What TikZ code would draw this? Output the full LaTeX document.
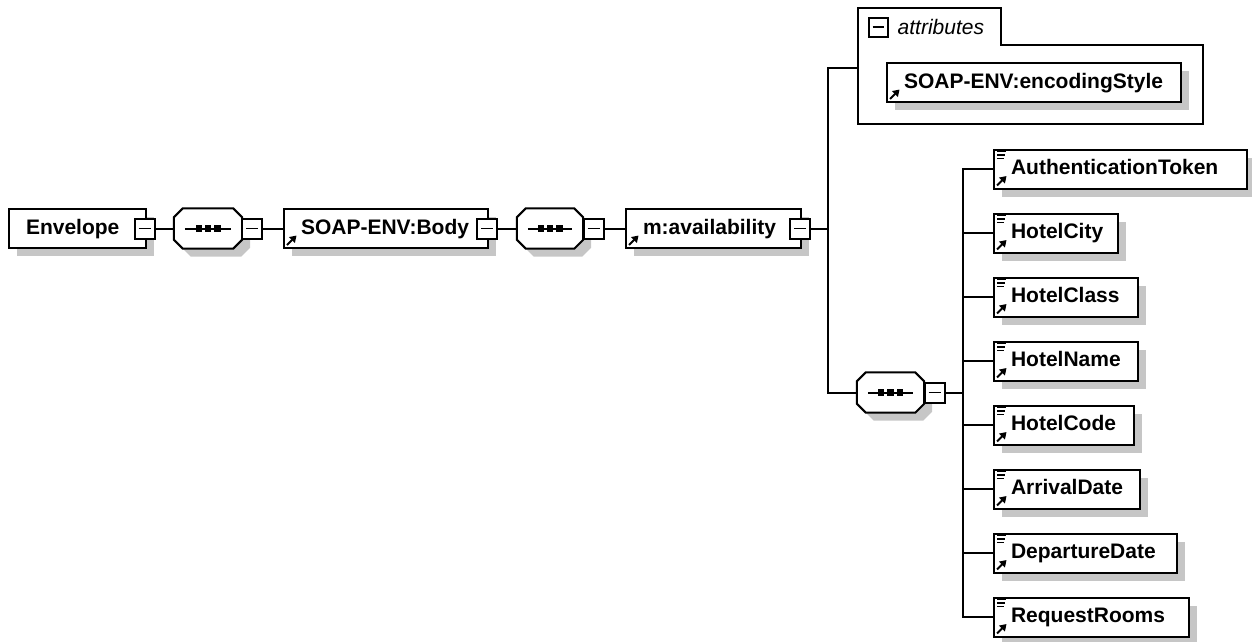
\documentclass[tikz,border=0pt]{standalone}
\usepackage{fontspec}
\setmainfont{Liberation Sans}
\usetikzlibrary{arrows.meta, shadows, positioning}
\exhyphenpenalty=10000

% octagon drawn round an (invisible) sequence node
\newcommand\seqoutline[1]{%
  \draw[seqbody] ([xshift=9pt]#1.north west) -- ([xshift=-9pt]#1.north east)
    -- ([yshift=-9pt]#1.north east) -- ([yshift=9pt]#1.south east)
    -- ([xshift=-9pt]#1.south east) -- ([xshift=9pt]#1.south west)
    -- ([yshift=9pt]#1.south west) -- ([yshift=-9pt]#1.north west) -- cycle;}

\tikzset{
  boxshadow/.style={drop shadow={shadow xshift=8pt, shadow yshift=-8pt, fill=gray!45, opacity=1}},
  element/.style={draw, fill=white, line width=2pt, anchor=west, minimum height=39pt,
    inner xsep=17pt, inner ysep=0pt, align=left, text height=15pt, text depth=4pt,
    font=\bfseries\fontsize{21}{24}\selectfont, boxshadow},
  refmark/.style={line width=2pt, -{Triangle[length=6.5pt, width=8pt]}},
  refelement/.style={element, path picture={
      \draw[refmark] ([shift={(3pt,3pt)}]path picture bounding box.south west) -- ++(9.5pt,9.5pt);}},
  leafelement/.style={element, path picture={
      \draw[refmark] ([shift={(3pt,3pt)}]path picture bounding box.south west) -- ++(9.5pt,9.5pt);
      \draw[line width=1.3pt] ([shift={(3pt,-2.3pt)}]path picture bounding box.north west) -- ++(9pt,0pt);
      \draw[line width=1.3pt] ([shift={(3pt,-5.6pt)}]path picture bounding box.north west) -- ++(8pt,0pt);
      \draw[line width=1.3pt] ([shift={(3pt,-8.9pt)}]path picture bounding box.north west) -- ++(6.5pt,0pt);}},
  collapse/.style={draw, fill=white, line width=2pt, minimum size=20pt, inner sep=0pt,
    path picture={\draw[line width=1.4pt] ([xshift=4pt]path picture bounding box.west)
      -- ([xshift=-4pt]path picture bounding box.east);}},
  sequence/.style={rectangle, minimum width=#1, minimum height=40pt, inner sep=0pt},
  seqbody/.style={line width=2pt, fill=white, boxshadow,
    path picture={
      \draw[line width=2pt] ([xshift=11pt]path picture bounding box.west) -- ([xshift=-11pt]path picture bounding box.east);
      \fill[black] ([shift={(-12.5pt,-3.2pt)}]path picture bounding box.center) rectangle ++(6.4pt,6.4pt);
      \fill[black] ([shift={(-3.2pt,-3.2pt)}]path picture bounding box.center) rectangle ++(6.4pt,6.4pt);
      \fill[black] ([shift={(6.1pt,-3.2pt)}]path picture bounding box.center) rectangle ++(6.4pt,6.4pt);}},
  connector/.style={line width=2pt},
  grouplabel/.style={inner sep=0pt, font=\itshape\fontsize{21}{24}\selectfont}
}

\begin{document}
\begin{tikzpicture}[x=1pt, y=-1pt]
  \useasboundingbox (0,0) rectangle (1252,641);

  % Main chain
  \node[element, text width=103pt] (env) at (8,228.5) {Envelope};
  \node[sequence=68pt] (s1) at (208,228.5) {};
  \seqoutline{s1}
  \node[refelement, text width=170pt] (body) at (283,228.5) {SOAP-ENV:Body};
  \node[sequence=66pt] (s2) at (550,228.5) {};
  \seqoutline{s2}
  \node[refelement, text width=141pt] (avail) at (625,228.5) {m:availability};

  % Attributes group
  \draw[line width=2pt] (858,8) -- (1001,8) -- (1001,45) -- (1203,45) -- (1203,124) -- (858,124) -- cycle;
  \node[collapse, minimum size=19pt] (attrmin) at (878,27) {};
  \node[grouplabel, right=9pt of attrmin] (attrlbl) {attributes};
  \coordinate (attrin) at (858,68);
  \node[refelement, text width=260pt] (enc) at (886,82.5) {SOAP-ENV:encodingStyle};

  % Sequence of children
  \node[sequence=67pt] (s3) at (890.5,392.5) {};
  \seqoutline{s3}
  \node[leafelement, text width=219pt] (token) at (993,169) {AuthenticationToken};
  \node[leafelement, text width=90pt] (city) at (993,233) {HotelCity};
  \node[leafelement, text width=110pt] (class) at (993,297) {HotelClass};
  \node[leafelement, text width=110pt] (name) at (993,361) {HotelName};
  \node[leafelement, text width=106pt] (code) at (993,425) {HotelCode};
  \node[leafelement, text width=112pt] (arrival) at (993,489) {ArrivalDate};
  \node[leafelement, text width=149pt] (departure) at (993,553) {DepartureDate};
  \node[leafelement, text width=161pt] (rooms) at (993,617) {RequestRooms};

  % Collapse buttons
  \node[collapse] (m1) at (144.5,228.5) {};
  \node[collapse] (m2) at (252,228.5) {};
  \node[collapse] (m3) at (487,228.5) {};
  \node[collapse] (m4) at (593.5,228.5) {};
  \node[collapse] (m5) at (800,228.5) {};
  \node[collapse] (m6) at (934.5,392.5) {};

  % Forks
  \coordinate (fork) at (828,228.5);
  \coordinate (cfork) at (963,392.5);

  % Connectors
  \draw[connector] (m1) -- (s1);
  \draw[connector] (m2) -- (body);
  \draw[connector] (m3) -- (s2);
  \draw[connector] (m4) -- (avail);
  \draw[connector] (m5) -- (fork);
  \draw[connector] (fork) |- (attrin);
  \draw[connector] (fork) |- (s3);
  \draw[connector] (m6) -- (cfork);
  \draw[connector] (cfork) |- (token);
  \draw[connector] (cfork) |- (city);
  \draw[connector] (cfork) |- (class);
  \draw[connector] (cfork) |- (name);
  \draw[connector] (cfork) |- (code);
  \draw[connector] (cfork) |- (arrival);
  \draw[connector] (cfork) |- (departure);
  \draw[connector] (cfork) |- (rooms);
\end{tikzpicture}
\end{document}
